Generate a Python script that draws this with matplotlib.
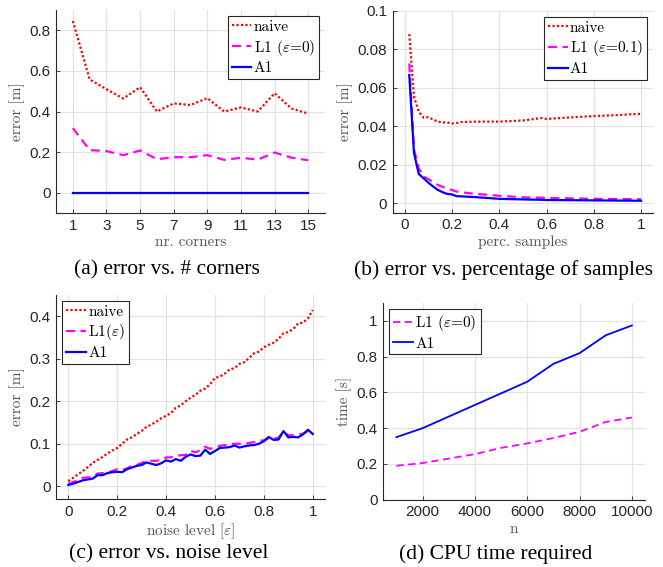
import matplotlib
matplotlib.use('Agg')
import matplotlib.pyplot as plt
from matplotlib.ticker import FuncFormatter

# (a) error vs. number of corners
corners = [1, 2, 3, 4, 5, 6, 7, 8, 9, 10, 11, 12, 13, 14, 15]
corners_naive = [0.846, 0.558, 0.51, 0.464, 0.52, 0.40, 0.44, 0.432, 0.466, 0.40, 0.42, 0.40, 0.49, 0.415, 0.39]
corners_l1 = [0.318, 0.21, 0.205, 0.185, 0.208, 0.165, 0.175, 0.175, 0.185, 0.162, 0.172, 0.163, 0.198, 0.173, 0.16]
corners_a1 = [0, 0, 0, 0, 0, 0, 0, 0, 0, 0, 0, 0, 0, 0, 0]

# (b) error vs. percentage of samples
samples = [0.02, 0.04, 0.06, 0.08, 0.1, 0.12, 0.14, 0.16, 0.18, 0.2, 0.22, 0.24, 0.3,
           0.4, 0.5, 0.58, 0.6, 0.7, 0.8, 0.9, 1.0]
samples_naive = [0.088, 0.0554, 0.0476, 0.0445, 0.0447, 0.0436, 0.0424, 0.042, 0.042, 0.0414, 0.0417,
                 0.0422, 0.0424, 0.0424, 0.043, 0.0443, 0.0438, 0.0446, 0.0453, 0.0458, 0.0465]
samples_l1 = [0.0727, 0.028, 0.018, 0.014, 0.0125, 0.011, 0.0095, 0.0085, 0.0075, 0.0068, 0.006,
              0.0056, 0.0048, 0.0038, 0.003, 0.0028, 0.0027, 0.0025, 0.0022, 0.0021, 0.002]
samples_a1 = [0.0667, 0.026, 0.0152, 0.013, 0.0107, 0.0087, 0.0069, 0.0057, 0.0048, 0.0045, 0.0036,
              0.0035, 0.0031, 0.0022, 0.0019, 0.0017, 0.0016, 0.0015, 0.0014, 0.0013, 0.0012]

# (c) error vs. noise level
noise = [i / 50 for i in range(51)]
noise_naive = [0.012, 0.02, 0.028, 0.036, 0.045, 0.055, 0.062, 0.069, 0.077, 0.084, 0.09, 0.1, 0.11,
               0.115, 0.123, 0.13, 0.14, 0.145, 0.152, 0.16, 0.166, 0.172, 0.185, 0.19, 0.2, 0.208,
               0.215, 0.225, 0.23, 0.24, 0.255, 0.258, 0.265, 0.275, 0.278, 0.288, 0.292, 0.302,
               0.313, 0.317, 0.327, 0.333, 0.338, 0.347, 0.36, 0.363, 0.37, 0.383, 0.385, 0.395, 0.415]
noise_l1 = [0.006, 0.01, 0.014, 0.02, 0.021, 0.022, 0.03, 0.031, 0.032, 0.036, 0.04, 0.038, 0.042,
            0.048, 0.05, 0.055, 0.058, 0.06, 0.06, 0.062, 0.068, 0.068, 0.072, 0.073, 0.074, 0.083,
            0.08, 0.085, 0.093, 0.088, 0.092, 0.095, 0.097, 0.099, 0.1, 0.1, 0.1, 0.102, 0.104,
            0.107, 0.108, 0.113, 0.111, 0.115, 0.128, 0.12, 0.12, 0.122, 0.124, 0.13, 0.126]
noise_a1 = [0.003, 0.006, 0.01, 0.014, 0.016, 0.018, 0.026, 0.026, 0.031, 0.033, 0.034, 0.033, 0.04,
            0.044, 0.048, 0.05, 0.056, 0.053, 0.05, 0.054, 0.061, 0.058, 0.064, 0.06, 0.069, 0.075,
            0.071, 0.072, 0.086, 0.076, 0.083, 0.09, 0.091, 0.092, 0.096, 0.091, 0.094, 0.096,
            0.097, 0.1, 0.106, 0.116, 0.109, 0.11, 0.13, 0.115, 0.116, 0.115, 0.122, 0.133, 0.123]

# (d) CPU time
n_points = [1000, 2000, 3000, 4000, 5000, 6000, 7000, 8000, 9000, 10000]
time_l1 = [0.19, 0.205, 0.23, 0.255, 0.29, 0.315, 0.345, 0.38, 0.435, 0.46]
time_a1 = [0.35, 0.40, 0.465, 0.53, 0.595, 0.66, 0.76, 0.82, 0.92, 0.975]

RED = '#ff0000'
MAG = '#ff00ff'
BLUE = '#0000ff'
DOT = (0, (1, 1))
DASH = (0, (4, 2.5))
LABEL_FONT = 'cmr10'
CAP_FONT = 'Liberation Serif'

plt.rcParams['font.family'] = 'Liberation Sans'
plt.rcParams['mathtext.fontset'] = 'cm'
plt.rcParams['axes.unicode_minus'] = False

fig = plt.figure(figsize=(6.63, 5.67), dpi=100)


def fmt(v, pos):
    return '%g' % v


def style_axes(ax, xlabel, ylabel):
    for side in ['top', 'right']:
        ax.spines[side].set_visible(False)
    for side in ['left', 'bottom']:
        ax.spines[side].set_color('#262626')
        ax.spines[side].set_linewidth(0.8)
    ax.grid(True, color='#e3e3e3', linewidth=0.9)
    ax.set_axisbelow(True)
    ax.tick_params(direction='in', length=3, width=0.6, colors='#262626', labelsize=11, pad=4)
    ax.xaxis.set_major_formatter(FuncFormatter(fmt))
    ax.yaxis.set_major_formatter(FuncFormatter(fmt))
    ax.set_xlabel(xlabel, fontfamily=LABEL_FONT, fontsize=11, color='#555555', labelpad=2)
    ax.set_ylabel(ylabel, fontfamily=LABEL_FONT, fontsize=11, color='#555555', labelpad=3)


def add_legend(ax, loc):
    leg = ax.legend(loc=loc, prop={'family': LABEL_FONT, 'size': 11}, handlelength=1.3,
                    handletextpad=0.15, labelspacing=0.25, borderpad=0.25, borderaxespad=0.4,
                    fancybox=False, framealpha=1, edgecolor='#262626')
    leg.get_frame().set_linewidth(0.8)


# panel (a)
ax_a = fig.add_axes([0.0845, 0.6243, 0.4057, 0.358])
ax_a.plot(corners, corners_naive, color=RED, linestyle=DOT, linewidth=1.6, label='naive')
ax_a.plot(corners, corners_l1, color=MAG, linestyle=DASH, linewidth=1.6, label=r'L1 ($\varepsilon$=0)')
ax_a.plot(corners, corners_a1, color=BLUE, linewidth=1.6, label='A1')
ax_a.set_xlim(0, 16)
ax_a.set_ylim(-0.1, 0.9)
ax_a.set_xticks([1, 3, 5, 7, 9, 11, 13, 15])
ax_a.set_yticks([0, 0.2, 0.4, 0.6, 0.8])
style_axes(ax_a, 'nr. corners', 'error [m]')
add_legend(ax_a, 'upper right')

# panel (b)
ax_b = fig.add_axes([0.5923, 0.6249, 0.3926, 0.3557])
ax_b.plot(samples, samples_naive, color=RED, linestyle=DOT, linewidth=1.6, label='naive')
ax_b.plot(samples, samples_l1, color=MAG, linestyle=DASH, linewidth=1.6, label=r'L1 ($\varepsilon$=0.1)')
ax_b.plot(samples, samples_a1, color=BLUE, linewidth=1.6, label='A1')
ax_b.set_xlim(-0.05, 1.05)
ax_b.set_ylim(-0.005, 0.1)
ax_b.set_xticks([0, 0.2, 0.4, 0.6, 0.8, 1])
ax_b.set_yticks([0, 0.02, 0.04, 0.06, 0.08, 0.1])
style_axes(ax_b, 'perc. samples', 'error [m]')
add_legend(ax_b, 'upper right')

# panel (c)
ax_c = fig.add_axes([0.0845, 0.1199, 0.4057, 0.3598])
ax_c.plot(noise, noise_naive, color=RED, linestyle=DOT, linewidth=1.6, label='naive')
ax_c.plot(noise, noise_l1, color=MAG, linestyle=DASH, linewidth=1.6, label=r'L1($\varepsilon$)')
ax_c.plot(noise, noise_a1, color=BLUE, linewidth=1.6, label='A1')
ax_c.set_xlim(-0.05, 1.05)
ax_c.set_ylim(-0.03, 0.45)
ax_c.set_xticks([0, 0.2, 0.4, 0.6, 0.8, 1])
ax_c.set_yticks([0, 0.1, 0.2, 0.3, 0.4])
style_axes(ax_c, r'noise level [$\varepsilon$]', 'error [m]')
add_legend(ax_c, 'upper left')

# panel (d)
ax_d = fig.add_axes([0.5781, 0.1187, 0.3947, 0.3467])
ax_d.plot(n_points, time_l1, color=MAG, linestyle=DASH, linewidth=1.3, label=r'L1 ($\varepsilon$=0)')
ax_d.plot(n_points, time_a1, color=BLUE, linewidth=1.3, label='A1')
ax_d.set_xlim(500, 10500)
ax_d.set_ylim(0, 1.1)
ax_d.set_xticks([2000, 4000, 6000, 8000, 10000])
ax_d.set_yticks([0, 0.2, 0.4, 0.6, 0.8, 1])
style_axes(ax_d, 'n', 'time [s]')
add_legend(ax_d, 'upper left')

# captions
fig.text(167 / 663, 1 - 270 / 567, '(a) error vs. # corners', family=CAP_FONT, fontsize=15.5,
         ha='center', va='center')
fig.text(503 / 663, 1 - 270 / 567, '(b) error vs. percentage of samples', family=CAP_FONT, fontsize=15.5,
         ha='center', va='center')
fig.text(169 / 663, 1 - 554 / 567, '(c) error vs. noise level', family=CAP_FONT, fontsize=15.5,
         ha='center', va='center')
fig.text(496 / 663, 1 - 554 / 567, '(d) CPU time required', family=CAP_FONT, fontsize=15.5,
         ha='center', va='center')

fig.savefig('out.png', dpi=100)
